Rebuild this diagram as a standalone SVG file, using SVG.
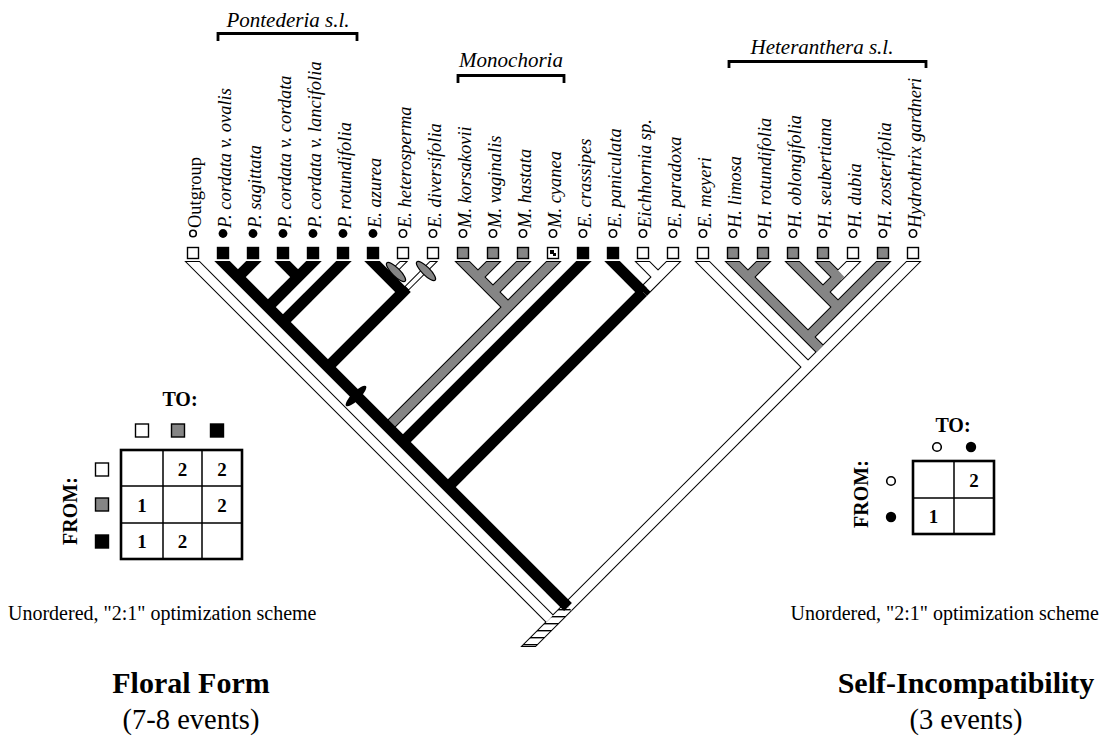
<svg xmlns="http://www.w3.org/2000/svg" width="1103" height="753" viewBox="0 0 1103 753">
<defs>
  <pattern id="hatch" width="8" height="7" patternUnits="userSpaceOnUse">
    <rect width="8" height="7" fill="#fff"/>
    <rect width="8" height="1.4" fill="#000"/>
  </pattern>
  <clipPath id="clipOuter"><rect x="0" y="261" width="1103" height="386"/></clipPath>
  <clipPath id="clipInner"><rect x="0" y="262" width="1103" height="384"/></clipPath>
</defs>
<style>
  text { font-family: "Liberation Serif", "Times New Roman", serif; fill: #000; }
  .tax { font-style: italic; font-size: 18.5px; }
  .og { font-style: normal; }
  .clade { font-style: italic; font-size: 21px; }
  .b { font-weight: bold; font-size: 20px; }
  .num { font-weight: bold; font-size: 19px; }
  .cap { font-size: 20px; }
  .title { font-weight: bold; font-size: 30px; }
  .sub { font-size: 28.5px; }
  .edge { fill: none; stroke: #000; stroke-width: 11; stroke-linecap: butt; }
  .thin { stroke-width: 6; }
  .fO { fill: none; stroke: #fff; stroke-width: 9; }
  .fT { fill: none; stroke: #fff; stroke-width: 4; }
  .fS { fill: none; stroke: #858585; stroke-width: 9; }
  .fH { fill: none; stroke: url(#hatch); stroke-width: 9; }
  .blk { fill: none; stroke: #000; stroke-width: 11; stroke-linecap: butt; stroke-linejoin: miter; }
  .sqO { fill: #fff; stroke: #000; stroke-width: 1.4; }
  .sqS { fill: #858585; stroke: #000; stroke-width: 1.4; }
  .sqB { fill: #000; stroke: #000; stroke-width: 1.4; }
  .cO { fill: #fff; stroke: #000; stroke-width: 1.6; }
  .cB { fill: #000; }
  .bracket { fill: none; stroke: #000; stroke-width: 2.8; }
  .grid { fill: none; stroke: #000; stroke-width: 1.5; }
  .frame { fill: none; stroke: #000; stroke-width: 2.6; }
</style>

<rect width="1103" height="753" fill="#fff"/>

<!-- clade brackets -->
<g id="clade-pontederia">
  <path class="bracket" d="M218,41 V33.5 H357 V41"/>
  <text class="clade" x="288" y="27" text-anchor="middle">Pontederia s.l.</text>
</g>
<g id="clade-monochoria">
  <path class="bracket" d="M458,83 V75.5 H564 V83"/>
  <text class="clade" x="511" y="67" text-anchor="middle">Monochoria</text>
</g>
<g id="clade-heteranthera">
  <path class="bracket" d="M729,68 V61.5 H926 V68"/>
  <text class="clade" x="822" y="54" text-anchor="middle">Heteranthera s.l.</text>
</g>

<!-- branches: outlines, then open/stippled/hatched fills, then solid black branches -->
<g id="connectors">
  <g clip-path="url(#clipOuter)">
    <path class="edge" d="M185,254 L553,622"/>
    <path class="edge" d="M921,254 L568,607"/>
    <path class="edge" d="M695,254 L808,367"/>
    <path class="edge" d="M635,254 L658,277"/>
    <path class="edge" d="M681,254 L643,292"/>
    <path class="edge" d="M861,254 L823,292"/>
    <path class="edge" d="M455,254 L508,307"/>
    <path class="edge" d="M561,254 L388,427"/>
    <path class="edge" d="M501,254 L478,277"/>
    <path class="edge" d="M531,254 L493,292"/>
    <path class="edge" d="M725,254 L823,352"/>
    <path class="edge" d="M771,254 L748,277"/>
    <path class="edge" d="M785,254 L838,307"/>
    <path class="edge" d="M815,254 L838,277"/>
    <path class="edge" d="M891,254 L808,337"/>
    <path class="edge" d="M568,607 L520,655"/>
    <path class="edge thin" d="M411,254 L388,277"/>
    <path class="edge thin" d="M441,254 L403,292"/>
  </g>
  <g clip-path="url(#clipInner)">
    <path class="fO" d="M185,254 L549.8,618.8"/>
    <path class="fO" d="M921,254 L568,607"/>
    <path class="fO" d="M695,254 L808,367"/>
    <path class="fO" d="M635,254 L658,277"/>
    <path class="fO" d="M681,254 L646.9,288.1"/>
    <path class="fO" d="M861,254 L838,277"/>
    <path class="fT" d="M411,254 L388,277"/>
    <path class="fT" d="M441,254 L407.2,287.8"/>
    <path class="fH" d="M568,607 L520,655"/>
    <path class="fS" d="M455,254 L508,307"/>
    <path class="fS" d="M561,254 L388,427"/>
    <path class="fS" d="M501,254 L478,277"/>
    <path class="fS" d="M531,254 L493,292"/>
    <path class="fS" d="M725,254 L819.8,348.8"/>
    <path class="fS" d="M771,254 L748,277"/>
    <path class="fS" d="M785,254 L838,307"/>
    <path class="fS" d="M815,254 L838,277"/>
    <path class="fS" d="M841.2,273.8 L823,292"/>
    <path class="fS" d="M891,254 L808,337"/>
  </g>
  <g clip-path="url(#clipOuter)">
    <path class="blk" d="M215,254 L568,607"/>
    <path class="blk" d="M261,254 L238,277"/>
    <path class="blk" d="M275,254 L298,277"/>
    <path class="blk" d="M321,254 L268,307"/>
    <path class="blk" d="M351,254 L283,322"/>
    <path class="blk" d="M365,254 L403,292 L328,367"/>
    <path class="blk" d="M591,254 L403,442"/>
    <path class="blk" d="M605,254 L643,292"/>
    <path class="blk" d="M643,292 L448,487"/>
  </g>
  <!-- character-change marks -->
  <ellipse cx="356" cy="396" rx="14" ry="4.2" transform="rotate(-45 356 396)" fill="#000"/>
  <ellipse cx="396" cy="272" rx="13" ry="4" transform="rotate(45 396 272)" fill="#858585" stroke="#000" stroke-width="1.2"/>
  <ellipse cx="426" cy="271" rx="13" ry="4" transform="rotate(45 426 271)" fill="#858585" stroke="#000" stroke-width="1.2"/>
</g>

<!-- terminal taxa: floral form state (square), SI state (circle), name -->
<g id="t-outgroup"><rect class="sqO" x="187.5" y="247.5" width="11" height="11"/><circle class="cO" cx="193" cy="233.5" r="3.3"/><text class="tax og" transform="translate(201,228) rotate(-90)">Outgroup</text></g>
<g id="t-p-cordata-ovalis"><rect class="sqB" x="217.5" y="247.5" width="11" height="11"/><circle class="cB" cx="223" cy="233.5" r="4.4"/><text class="tax" transform="translate(231,228) rotate(-90)">P. cordata v. ovalis</text></g>
<g id="t-p-sagittata"><rect class="sqB" x="247.5" y="247.5" width="11" height="11"/><circle class="cB" cx="253" cy="233.5" r="4.4"/><text class="tax" transform="translate(261,228) rotate(-90)">P. sagittata</text></g>
<g id="t-p-cordata-cordata"><rect class="sqB" x="277.5" y="247.5" width="11" height="11"/><circle class="cB" cx="283" cy="233.5" r="4.4"/><text class="tax" transform="translate(291,228) rotate(-90)">P. cordata v. cordata</text></g>
<g id="t-p-cordata-lancifolia"><rect class="sqB" x="307.5" y="247.5" width="11" height="11"/><circle class="cB" cx="313" cy="233.5" r="4.4"/><text class="tax" transform="translate(321,228) rotate(-90)">P. cordata v. lancifolia</text></g>
<g id="t-p-rotundifolia"><rect class="sqB" x="337.5" y="247.5" width="11" height="11"/><circle class="cB" cx="343" cy="233.5" r="4.4"/><text class="tax" transform="translate(351,228) rotate(-90)">P. rotundifolia</text></g>
<g id="t-e-azurea"><rect class="sqB" x="367.5" y="247.5" width="11" height="11"/><circle class="cB" cx="373" cy="233.5" r="4.4"/><text class="tax" transform="translate(381,228) rotate(-90)">E. azurea</text></g>
<g id="t-e-heterosperma"><rect class="sqO" x="397.5" y="247.5" width="11" height="11"/><circle class="cO" cx="403" cy="233.5" r="3.7"/><text class="tax" transform="translate(411,228) rotate(-90)">E. heterosperma</text></g>
<g id="t-e-diversifolia"><rect class="sqO" x="427.5" y="247.5" width="11" height="11"/><circle class="cO" cx="433" cy="233.5" r="3.7"/><text class="tax" transform="translate(441,228) rotate(-90)">E. diversifolia</text></g>
<g id="t-m-korsakovii"><rect class="sqS" x="457.5" y="247.5" width="11" height="11"/><circle class="cO" cx="463" cy="233.5" r="3.7"/><text class="tax" transform="translate(471,228) rotate(-90)">M. korsakovii</text></g>
<g id="t-m-vaginalis"><rect class="sqS" x="487.5" y="247.5" width="11" height="11"/><circle class="cO" cx="493" cy="233.5" r="3.7"/><text class="tax" transform="translate(501,228) rotate(-90)">M. vaginalis</text></g>
<g id="t-m-hastata"><rect class="sqS" x="517.5" y="247.5" width="11" height="11"/><circle class="cO" cx="523" cy="233.5" r="3.7"/><text class="tax" transform="translate(531,228) rotate(-90)">M. hastata</text></g>
<g id="t-m-cyanea"><rect class="sqO" x="547.5" y="247.5" width="11" height="11"/><path d="M550,250 h4 v3 h2 v3 h-3 v-2 h-3 z" fill="#000"/><circle class="cO" cx="553" cy="233.5" r="3.7"/><text class="tax" transform="translate(561,228) rotate(-90)">M. cyanea</text></g>
<g id="t-e-crassipes"><rect class="sqB" x="577.5" y="247.5" width="11" height="11"/><circle class="cO" cx="583" cy="233.5" r="3.7"/><text class="tax" transform="translate(591,228) rotate(-90)">E. crassipes</text></g>
<g id="t-e-paniculata"><rect class="sqB" x="607.5" y="247.5" width="11" height="11"/><circle class="cO" cx="613" cy="233.5" r="3.7"/><text class="tax" transform="translate(621,228) rotate(-90)">E. paniculata</text></g>
<g id="t-eichhornia-sp"><rect class="sqO" x="637.5" y="247.5" width="11" height="11"/><circle class="cO" cx="643" cy="233.5" r="3.7"/><text class="tax" transform="translate(651,228) rotate(-90)">Eichhornia sp.</text></g>
<g id="t-e-paradoxa"><rect class="sqO" x="667.5" y="247.5" width="11" height="11"/><circle class="cO" cx="673" cy="233.5" r="3.7"/><text class="tax" transform="translate(681,228) rotate(-90)">E. paradoxa</text></g>
<g id="t-e-meyeri"><rect class="sqO" x="697.5" y="247.5" width="11" height="11"/><circle class="cO" cx="703" cy="233.5" r="3.7"/><text class="tax" transform="translate(711,228) rotate(-90)">E. meyeri</text></g>
<g id="t-h-limosa"><rect class="sqS" x="727.5" y="247.5" width="11" height="11"/><circle class="cO" cx="733" cy="233.5" r="3.7"/><text class="tax" transform="translate(741,228) rotate(-90)">H. limosa</text></g>
<g id="t-h-rotundifolia"><rect class="sqS" x="757.5" y="247.5" width="11" height="11"/><circle class="cO" cx="763" cy="233.5" r="3.7"/><text class="tax" transform="translate(771,228) rotate(-90)">H. rotundifolia</text></g>
<g id="t-h-oblongifolia"><rect class="sqS" x="787.5" y="247.5" width="11" height="11"/><circle class="cO" cx="793" cy="233.5" r="3.7"/><text class="tax" transform="translate(801,228) rotate(-90)">H. oblongifolia</text></g>
<g id="t-h-seubertiana"><rect class="sqS" x="817.5" y="247.5" width="11" height="11"/><circle class="cO" cx="823" cy="233.5" r="3.7"/><text class="tax" transform="translate(831,228) rotate(-90)">H. seubertiana</text></g>
<g id="t-h-dubia"><rect class="sqO" x="847.5" y="247.5" width="11" height="11"/><circle class="cO" cx="853" cy="233.5" r="3.7"/><text class="tax" transform="translate(861,228) rotate(-90)">H. dubia</text></g>
<g id="t-h-zosterifolia"><rect class="sqS" x="877.5" y="247.5" width="11" height="11"/><circle class="cO" cx="883" cy="233.5" r="3.7"/><text class="tax" transform="translate(891,228) rotate(-90)">H. zosterifolia</text></g>
<g id="t-hydrothrix-gardneri"><rect class="sqO" x="907.5" y="247.5" width="11" height="11"/><circle class="cO" cx="913" cy="233.5" r="3.7"/><text class="tax" transform="translate(921,228) rotate(-90)">Hydrothrix gardneri</text></g>

<!-- floral form transition matrix -->
<g id="matrix-floral">
  <text class="b" x="180" y="406" text-anchor="middle">TO:</text>
  <rect class="sqO" x="135.5" y="424" width="13" height="13"/>
  <rect class="sqS" x="171.5" y="424" width="13" height="13"/>
  <rect class="sqB" x="210.5" y="424" width="13" height="13"/>
  <text class="b" transform="translate(77,511) rotate(-90)" text-anchor="middle">FROM:</text>
  <rect class="sqO" x="95.5" y="463" width="13" height="13"/>
  <rect class="sqS" x="95.5" y="498" width="13" height="13"/>
  <rect class="sqB" x="95.5" y="535" width="13" height="13"/>
  <path class="grid" d="M163,450 V559 M202,450 V559 M121,486 H242 M121,523 H242"/>
  <rect class="frame" x="121" y="450" width="121" height="109"/>
  <text class="num" x="182.5" y="476" text-anchor="middle">2</text>
  <text class="num" x="222" y="476" text-anchor="middle">2</text>
  <text class="num" x="142" y="511.5" text-anchor="middle">1</text>
  <text class="num" x="222" y="511.5" text-anchor="middle">2</text>
  <text class="num" x="142" y="548" text-anchor="middle">1</text>
  <text class="num" x="182.5" y="548" text-anchor="middle">2</text>
</g>

<!-- self-incompatibility transition matrix -->
<g id="matrix-si">
  <text class="b" x="953" y="432" text-anchor="middle">TO:</text>
  <circle class="cO" cx="937" cy="447" r="4.3"/>
  <circle class="cB" cx="971" cy="447" r="5.2"/>
  <text class="b" transform="translate(868,494) rotate(-90)" text-anchor="middle">FROM:</text>
  <circle class="cO" cx="891" cy="481" r="4.3"/>
  <circle class="cB" cx="891" cy="517" r="5.2"/>
  <path class="grid" d="M954,461 V534 M913,498 H994"/>
  <rect class="frame" x="913" y="461" width="81" height="73"/>
  <text class="num" x="974" y="487" text-anchor="middle">2</text>
  <text class="num" x="933.5" y="523" text-anchor="middle">1</text>
</g>

<!-- captions -->
<g id="caption-floral">
  <text class="cap" x="8" y="620">Unordered, "2:1" optimization scheme</text>
  <text class="title" x="191" y="693" text-anchor="middle">Floral Form</text>
  <text class="sub" x="191" y="729" text-anchor="middle">(7-8 events)</text>
</g>
<g id="caption-si">
  <text class="cap" x="1099" y="620" text-anchor="end">Unordered, "2:1" optimization scheme</text>
  <text class="title" x="966" y="693" text-anchor="middle">Self-Incompatibility</text>
  <text class="sub" x="966" y="729" text-anchor="middle">(3 events)</text>
</g>
</svg>
